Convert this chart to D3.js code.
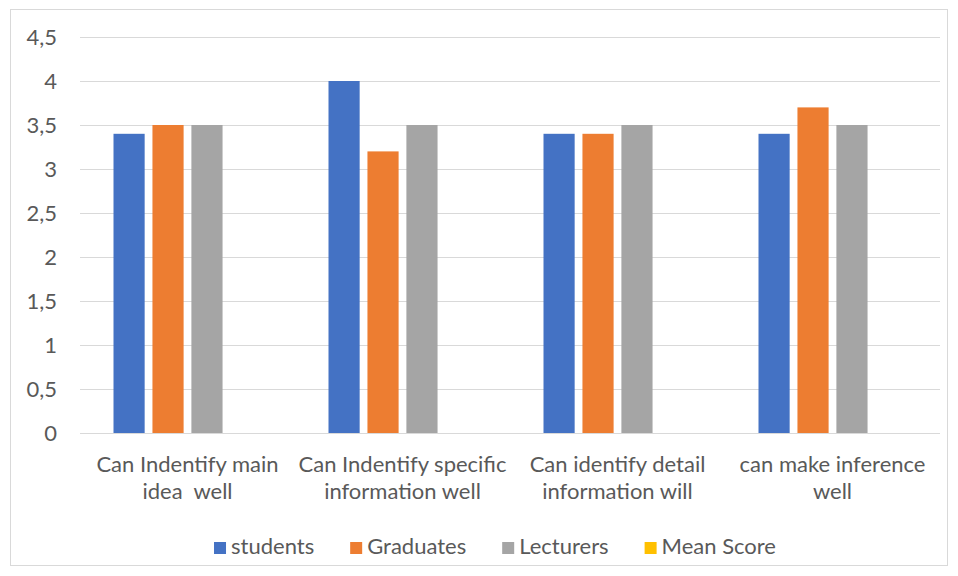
<!DOCTYPE html>
<html>
<head>
<meta charset="utf-8">
<script src="https://cdn.jsdelivr.net/npm/d3@7"></script>
<style>
  body { margin: 0; background: #fff; }
  text { font-family: Lato, "Open Sans", sans-serif; fill: #595959; }
</style>
</head>
<body>
<script>
// chart data
var categories = ["Can Indentify main\nidea  well", "Can Indentify specific\ninformation well",
                  "Can identify detail\ninformation will", "can make inference\nwell"];
var series = ["students", "Graduates", "Lecturers", "Mean Score"];
var students = [3.4, 4, 3.4, 3.4];
var graduates = [3.5, 3.2, 3.4, 3.7];
var lecturers = [3.5, 3.5, 3.5, 3.5];
var meanScore = [0, 0, 0, 0];
var yTicks = [0, 0.5, 1, 1.5, 2, 2.5, 3, 3.5, 4, 4.5];

var colors = ["#4472C4", "#ED7D31", "#A5A5A5", "#FFC000"];
var values = [students, graduates, lecturers, meanScore];

var W = 958, H = 576;
var plot = {left: 80, right: 940, top: 37, bottom: 433};
var fs = "22px";

var svg = d3.select("body").append("svg")
    .attr("width", W).attr("height", H);

// outer border
svg.append("rect")
    .attr("x", 10.5).attr("y", 9.5)
    .attr("width", 937).attr("height", 556)
    .attr("fill", "#fff").attr("stroke", "#d9d9d9");

var x0 = d3.scaleBand().domain(d3.range(categories.length))
    .range([plot.left, plot.right]);
var x1 = d3.scaleBand().domain(series)
    .range([33.5, x0.bandwidth() - 33.5]).paddingInner(0.2);
var y = d3.scaleLinear().domain([0, 4.5]).range([plot.bottom, plot.top]);

// gridlines
svg.append("g").selectAll("line").data(yTicks).enter().append("line")
    .attr("x1", plot.left).attr("x2", plot.right)
    .attr("y1", function(d) { return Math.round(y(d)) + 0.5; })
    .attr("y2", function(d) { return Math.round(y(d)) + 0.5; })
    .attr("stroke", "#d9d9d9").attr("stroke-width", 1);

// y labels
svg.append("g").selectAll("text").data(yTicks).enter().append("text")
    .attr("x", 57).attr("y", function(d) { return y(d); })
    .attr("dy", "0.35em")
    .attr("text-anchor", "end")
    .style("font-size", fs)
    .text(function(d) { return String(d).replace(".", ","); });

// bars
series.forEach(function(s, si) {
    svg.append("g").selectAll("rect").data(values[si]).enter().append("rect")
        .attr("x", function(d, i) { return x0(i) + x1(s); })
        .attr("width", x1.bandwidth())
        .attr("y", function(d) { return y(d); })
        .attr("height", function(d) { return y(0) - y(d); })
        .attr("fill", colors[si]);
});

// category labels
var lab = svg.append("g").selectAll("text").data(categories).enter().append("text")
    .attr("text-anchor", "middle")
    .attr("xml:space", "preserve")
    .style("font-size", fs)
    .attr("transform", function(d, i) {
        return "translate(" + (x0(i) + x0.bandwidth() / 2) + ",0)";
    });
lab.selectAll("tspan").data(function(d) { return d.split("\n"); }).enter().append("tspan")
    .attr("x", 0)
    .attr("y", function(d, i) { return 472 + i * 27; })
    .text(function(d) { return d; });

// legend
var leg = svg.append("g");
var lx = 0, gap = 36;
series.forEach(function(s, si) {
    var g = leg.append("g").attr("transform", "translate(" + lx + ",0)");
    g.append("rect").attr("x", 0).attr("y", -12).attr("width", 12).attr("height", 12)
        .attr("fill", colors[si]);
    var t = g.append("text").attr("x", 17).attr("y", 0)
        .style("font-size", fs).text(s);
    lx += 17 + t.node().getComputedTextLength() + gap;
});
lx -= gap;
leg.attr("transform", "translate(" + (495 - lx / 2) + ",554)");
</script>
</body>
</html>
